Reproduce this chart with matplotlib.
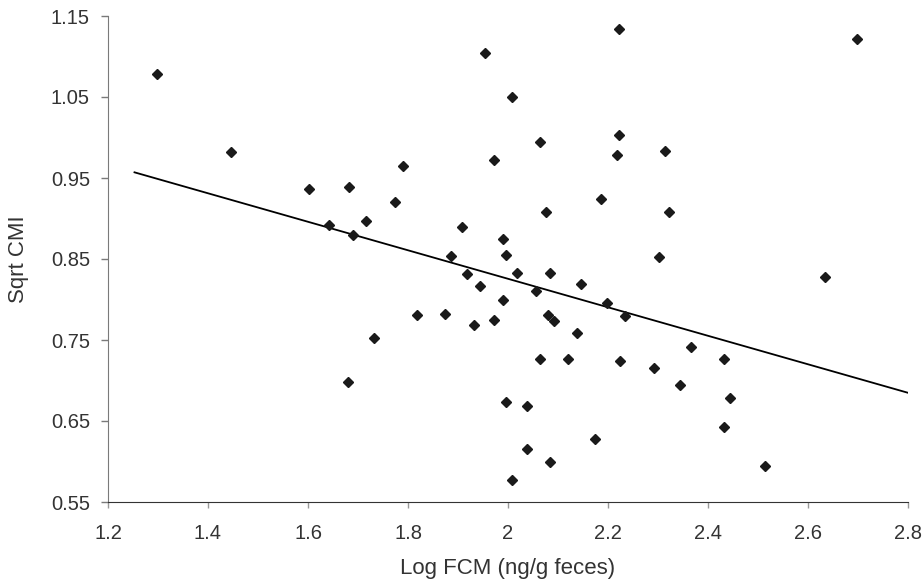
import numpy as np
import matplotlib
matplotlib.use("Agg")
import matplotlib.pyplot as plt

plt.rcParams['font.family'] = ['Liberation Sans', 'DejaVu Sans']

# log faecal cortisol metabolites vs sqrt condition index
log_fcm = [1.299, 1.445, 1.601, 1.681, 1.790, 1.775, 1.641, 1.715, 1.689,
           1.954, 2.008, 1.971, 1.908, 1.989, 1.995, 1.885, 1.917, 1.944,
           2.017, 2.221, 2.699, 2.065, 2.221, 2.217, 2.315, 2.187, 2.075,
           2.322, 2.303, 2.635, 2.085, 2.146, 1.989, 1.817, 1.873, 1.931,
           1.971, 1.732, 1.680, 1.995, 2.008, 2.056, 2.199, 2.233, 2.079,
           2.093, 2.138, 2.365, 2.065, 2.120, 2.224, 2.431, 2.292, 2.344,
           2.445, 2.038, 2.431, 2.175, 2.038, 2.085, 2.514]
sqrt_cmi = [1.079, 0.982, 0.937, 0.939, 0.965, 0.920, 0.892, 0.897, 0.880,
            1.104, 1.050, 0.972, 0.890, 0.875, 0.855, 0.854, 0.832, 0.817,
            0.833, 1.134, 1.122, 0.994, 1.003, 0.978, 0.983, 0.924, 0.908,
            0.908, 0.853, 0.828, 0.833, 0.819, 0.800, 0.781, 0.782, 0.769,
            0.775, 0.753, 0.698, 0.673, 0.577, 0.810, 0.796, 0.780, 0.781,
            0.773, 0.759, 0.741, 0.726, 0.727, 0.724, 0.726, 0.715, 0.694,
            0.678, 0.669, 0.642, 0.628, 0.616, 0.599, 0.594]

# fitted trend line end points
trend_x = [1.253, 2.799]
trend_y = [0.957, 0.685]

xticks = [1.2, 1.4, 1.6, 1.8, 2.0, 2.2, 2.4, 2.6, 2.8]
xtick_labels = ['1.2', '1.4', '1.6', '1.8', '2', '2.2', '2.4', '2.6', '2.8']
yticks = [0.55, 0.65, 0.75, 0.85, 0.95, 1.05, 1.15]

fig = plt.figure(figsize=(9.22, 5.81), dpi=100)
ax = fig.add_axes([108 / 922, 79 / 581, 800 / 922, 486 / 581])

ax.plot(trend_x, trend_y, color='black', lw=1.3, zorder=2)
ax.plot(log_fcm, sqrt_cmi, ls='none', marker='D', ms=4.8,
        color='#1a1a1a', zorder=3)

ax.set_xlim(1.2, 2.8)
ax.set_ylim(0.55, 1.15)
ax.set_xticks(xticks)
ax.set_xticklabels(xtick_labels)
ax.set_yticks(yticks)
ax.set_yticklabels([f'{v:.2f}' for v in yticks])

for side in ('top', 'right'):
    ax.spines[side].set_visible(False)
ax.spines['left'].set_color('#7a7a7a')
ax.spines['bottom'].set_color('#333333')
ax.tick_params(axis='y', length=5, width=1, color='#7a7a7a', pad=8,
               labelsize=14.5, labelcolor='#333333')
ax.tick_params(axis='x', length=4.5, width=1, color='#999999', pad=11,
               labelsize=14.5, labelcolor='#333333')

ax.set_xlabel('Log FCM (ng/g feces)', fontsize=16, color='#333333')
ax.set_ylabel('Sqrt CMI', fontsize=16, color='#333333')
ax.xaxis.set_label_coords(0.5, -0.115)
ax.yaxis.set_label_coords(-0.099, 0.5)

fig.savefig('out.png', dpi=100)
